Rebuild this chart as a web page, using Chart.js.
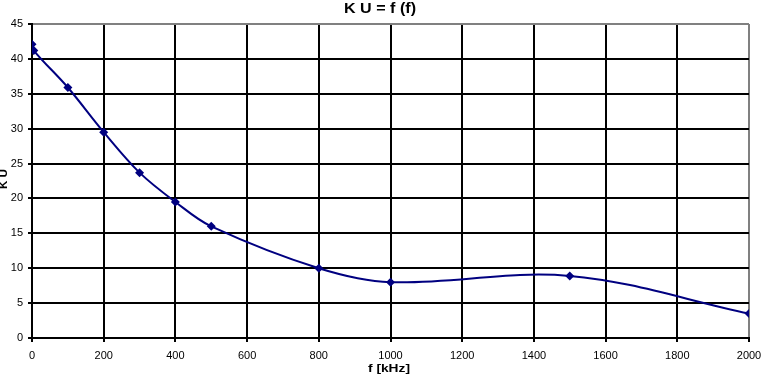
<!DOCTYPE html>
<html><head><meta charset="utf-8">
<script src="https://cdn.jsdelivr.net/npm/chart.js@4/dist/chart.umd.min.js"></script>
<style>html,body{margin:0;padding:0;background:#fff}#w{width:762px;height:377px}</style>
</head><body><div id="w"><canvas id="c" width="762" height="377"></canvas></div>
<script>
const freqKHz = [0, 5, 100, 200, 300, 400, 500, 800, 1000, 1500, 2000];
const gainKU = [42.1, 41.2, 35.9, 29.5, 23.7, 19.5, 16.0, 10.0, 8.0, 8.9, 3.5];
const titleText = 'K U = f (f)';
const xTitle = 'f [kHz]';
const yTitle = 'K U';

const points = freqKHz.map((f, i) => ({x: f, y: gainKU[i]}));
const FONT = '"Liberation Sans", Arial, sans-serif';

function stretchText(ctx, text, x, y, width, rot) {
  ctx.save();
  ctx.translate(x, y);
  if (rot) ctx.rotate(rot);
  const w = ctx.measureText(text).width;
  ctx.scale(width / w, 1);
  ctx.fillText(text, 0, 0);
  ctx.restore();
}

const textPlugin = {
  id: 'texts',
  afterDraw(chart) {
    const ctx = chart.ctx;
    ctx.save();
    ctx.fillStyle = '#000';
    ctx.textAlign = 'center';
    ctx.textBaseline = 'middle';
    ctx.font = 'bold 14px ' + FONT;
    stretchText(ctx, titleText, 380, 9, 72, 0);
    ctx.font = 'bold 11px ' + FONT;
    stretchText(ctx, xTitle, 389, 369, 42, 0);
    stretchText(ctx, yTitle, 4, 179, 20, -Math.PI / 2);
    ctx.restore();
  }
};

new Chart(document.getElementById('c'), {
  type: 'scatter',
  data: {datasets: [{
    data: points,
    showLine: true,
    borderColor: '#000080',
    backgroundColor: '#000080',
    borderWidth: 2,
    tension: 0.35,
    pointStyle: 'rectRot',
    pointRadius: 4.5,
    pointBorderWidth: 0
  }]},
  options: {
    responsive: false,
    animation: false,
    devicePixelRatio: 1,
    layout: {padding: {top: 24, right: 13, left: 0, bottom: 0}},
    plugins: {legend: {display: false}, title: {display: false}, tooltip: {enabled: false}},
    scales: {
      x: {
        type: 'linear', min: 0, max: 2000,
        afterFit(s) { s.height = 39; s.paddingRight = 0; s.paddingLeft = 0; },
        ticks: {stepSize: 200, color: '#000', font: {family: FONT, size: 11}, padding: 7, maxRotation: 0,
          callback: v => String(v)},
        grid: {
          color: c => (c.tick && c.tick.value === 2000) ? '#808080' : '#000',
          lineWidth: 2, tickLength: 4, tickColor: '#000', drawTicks: true
        },
        border: {color: '#000', width: 2}
      },
      y: {
        min: 0, max: 45,
        afterFit(s) { s.width = 32; s.paddingTop = 0; s.paddingBottom = 0; },
        ticks: {stepSize: 5, color: '#000', font: {family: FONT, size: 11}, padding: 5},
        grid: {
          color: c => (c.tick && c.tick.value === 45) ? '#808080' : '#000',
          lineWidth: 2, tickLength: 4, tickColor: '#000', drawTicks: true
        },
        border: {color: '#000', width: 2}
      }
    }
  },
  plugins: [textPlugin]
});
</script></body></html>
